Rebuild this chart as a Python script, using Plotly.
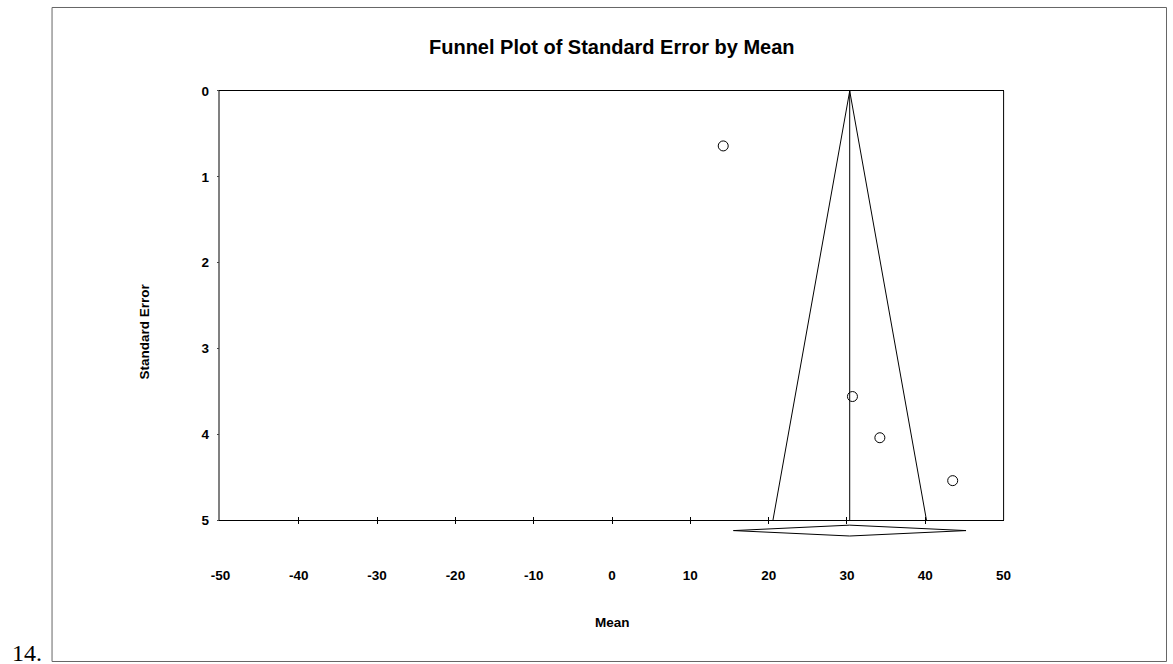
import plotly.graph_objects as go

# ---- data ----
study_mean = [14.2, 30.7, 34.2, 43.5]
study_se = [0.64, 3.56, 4.04, 4.54]
pooled_mean = 30.35
se_max = 5.0
z_crit = 1.96
ci_low = 15.5
ci_high = 45.2
x_tick_vals = [-50, -40, -30, -20, -10, 0, 10, 20, 30, 40, 50]
x_tick_text = ["-50", "-40", "-30", "-20", "-10", "0", "10", "20", "30", "40", "50"]
x_tick_marks = [-40, -30, -20, -10, 0, 10, 20, 30, 40]
y_tick_vals = [0, 1, 2, 3, 4, 5]

VW, VH = 1173, 664          # browser window
BLEED = 8                   # the photographed frame shows an 8px bleed round the window
SX = (VW + 2 * BLEED) / VW
SY = (VH + 2 * BLEED) / VH
W, H = VW + BLEED, VH + BLEED   # figure also covers the right/bottom bleed


def px_x(r):
    """reference pixel x -> paper fraction"""
    return (r * SX - BLEED) / W


def px_y(r):
    """reference pixel y -> paper fraction"""
    return 1 - (r * SY - BLEED) / H


FONT = "Liberation Sans, Arial, sans-serif"
TICK = 13.5
X_DOM = [px_x(218.7), px_x(1003.3)]
Y_DOM = [px_y(520.3), px_y(91.7)]

fig = go.Figure()

# funnel (pseudo 95% limits)
fig.add_trace(go.Scatter(
    x=[pooled_mean - z_crit * se_max, pooled_mean, pooled_mean + z_crit * se_max],
    y=[se_max, 0, se_max],
    mode="lines", line=dict(color="black", width=1),
    xaxis="x", yaxis="y", hoverinfo="skip"))
# pooled mean line
fig.add_trace(go.Scatter(
    x=[pooled_mean, pooled_mean], y=[0, se_max],
    mode="lines", line=dict(color="black", width=1),
    xaxis="x", yaxis="y", hoverinfo="skip"))
# studies
fig.add_trace(go.Scatter(
    x=study_mean, y=study_se, mode="markers",
    marker=dict(symbol="circle-open", size=10, color="black", line=dict(width=1, color="black")),
    xaxis="x", yaxis="y"))
# summary diamond in a thin strip below the axis
fig.add_trace(go.Scatter(
    x=[ci_low, pooled_mean, ci_high, pooled_mean, ci_low],
    y=[0, 0.7, 0, -0.7, 0],
    mode="lines", line=dict(color="black", width=1),
    fill="toself", fillcolor="white",
    xaxis="x2", yaxis="y2", hoverinfo="skip"))
# helper trace for the crossing tick overlay axis
fig.add_trace(go.Scatter(x=[None], y=[None], xaxis="x3", yaxis="y", hoverinfo="skip"))

fig.update_layout(
    width=W, height=H,
    margin=dict(l=0, r=0, t=0, b=0),
    paper_bgcolor="white", plot_bgcolor="rgba(0,0,0,0)",
    showlegend=False,
    font=dict(family=FONT, color="black"),
    xaxis=dict(domain=X_DOM, range=[-50, 50], anchor="y",
               tickmode="array", tickvals=x_tick_marks, showticklabels=False,
               ticks="outside", ticklen=3, tickwidth=1, tickcolor="black",
               showline=True, linecolor="black", linewidth=1, mirror=True,
               showgrid=False, zeroline=False, fixedrange=True),
    xaxis3=dict(overlaying="x", range=[-50, 50], anchor="y", side="bottom",
                tickmode="array", tickvals=x_tick_marks, showticklabels=False,
                ticks="inside", ticklen=3, tickwidth=1, tickcolor="black",
                showline=False, showgrid=False, zeroline=False),
    yaxis=dict(domain=Y_DOM, range=[se_max, 0], anchor="x",
               tickmode="array", tickvals=y_tick_vals,
               ticks="outside", ticklen=2, tickwidth=1, tickcolor="#444",
               tickfont=dict(size=TICK, weight="bold", family=FONT),
               ticklabelstandoff=5,
               showline=True, linecolor="#808080", linewidth=1.6,
               showgrid=False, zeroline=False),
    xaxis2=dict(domain=X_DOM, range=[-50, 50], anchor="y2",
                tickmode="array", tickvals=x_tick_vals, ticktext=x_tick_text,
                ticks="", showline=False, showgrid=False, zeroline=False,
                tickfont=dict(size=TICK, weight="bold", family=FONT),
                ticklabelstandoff=27),
    yaxis2=dict(domain=[px_y(538.5), px_y(523)], range=[-1, 1], anchor="x2",
                visible=False),
    shapes=[
        dict(type="line", xref="paper", yref="paper",
             x0=X_DOM[1], x1=X_DOM[1], y0=Y_DOM[0], y1=Y_DOM[1],
             line=dict(color="black", width=1)),
        dict(type="rect", xref="paper", yref="paper",
             x0=px_x(50), x1=px_x(1166.5), y0=px_y(661.5), y1=1 - 0.5 / H,
             line=dict(color="#666", width=1)),
    ],
    annotations=[
        dict(text="Funnel Plot of Standard Error by Mean", xref="paper", yref="paper",
             x=px_x(611), y=px_y(48), xanchor="center", yanchor="middle", showarrow=False,
             font=dict(size=20, weight="bold", family=FONT)),
        dict(text="Mean", xref="paper", yref="paper",
             x=px_x(611), y=px_y(622.7), xanchor="center", yanchor="middle", showarrow=False,
             font=dict(size=TICK, weight="bold", family=FONT)),
        dict(text="Standard Error", xref="paper", yref="paper", textangle=-90,
             x=px_x(143), y=px_y(332), xanchor="center", yanchor="middle", showarrow=False,
             font=dict(size=TICK, weight="bold", family=FONT)),
        dict(text="14.", xref="paper", yref="paper",
             x=0, y=px_y(653), xanchor="left", yanchor="middle", showarrow=False,
             font=dict(size=24, family="Liberation Serif, Times New Roman, serif")),
    ],
)

fig.write_html(
    "out.html",
    config={"displayModeBar": False},
    post_script="document.body.style.margin='0';document.body.style.overflow='hidden';",
)
